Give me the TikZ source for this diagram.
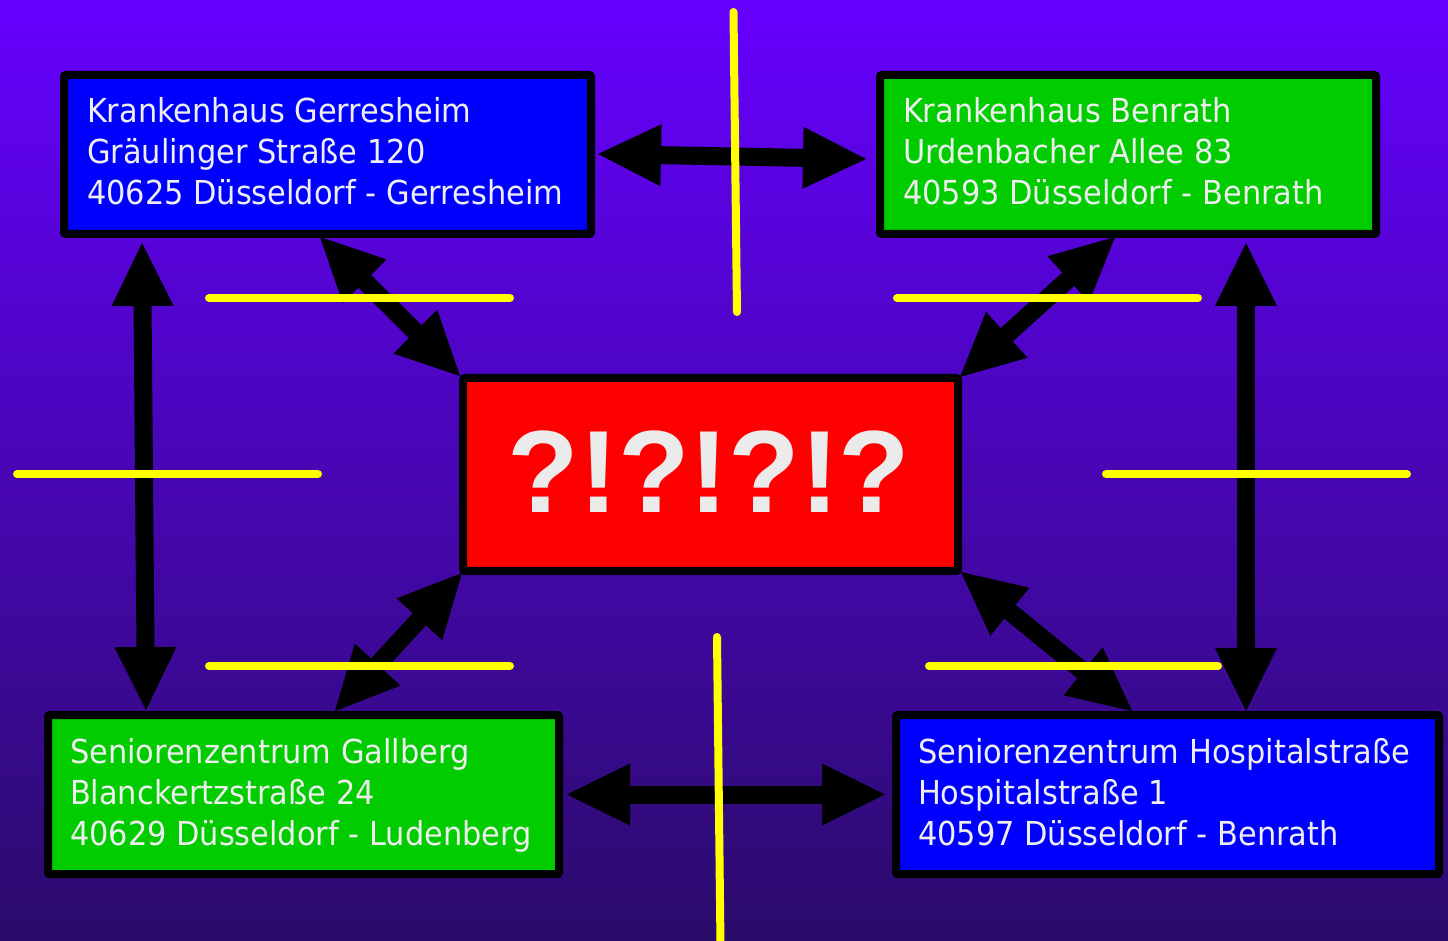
\documentclass[tikz,border=0pt]{standalone}
\usepackage{fontspec}
\setmainfont{DejaVu Sans}
\newfontfamily\boxfont[FakeStretch=0.922]{DejaVu Sans}
\newfontfamily\qfont{Liberation Sans}
\usetikzlibrary{arrows.meta,calc}
\definecolor{bgtop}{HTML}{6600FF}
\definecolor{bgbot}{HTML}{2A0C6A}
\definecolor{boxblue}{HTML}{0000FF}
\definecolor{boxgreen}{HTML}{00CC00}
\definecolor{boxred}{HTML}{FF0000}
\definecolor{txtcol}{HTML}{EEEEEE}
\definecolor{qcol}{HTML}{EBEBEB}
\definecolor{ylw}{HTML}{FFFF00}
\tikzset{
  boxst/.style={draw=black, line width=4pt, rounded corners=1pt, inner sep=0pt, outer sep=2pt, minimum height=79.5pt},
  txt/.style={anchor=base west, inner sep=0pt, outer sep=0pt, text=txtcol, font=\boxfont\fontsize{16.5pt}{20.5pt}\selectfont},
  arr/.style={draw=black, line width=9pt, >={Triangle[length=31.5pt,width=31pt,line width=0pt]}, <->},
  ymark/.style={draw=ylw, line width=4pt, line cap=round}
}
\begin{document}
\begin{tikzpicture}[x=0.5pt,y=-0.5pt]
\useasboundingbox (0,0) rectangle (1448,941);
\shade[top color=bgtop, bottom color=bgbot] (0,0) rectangle (1448,941);

% boxes
\node[boxst, fill=boxblue, minimum width=263.5pt] (G) at (327.5,154.5) {};
\node[boxst, fill=boxgreen, minimum width=248pt] (B) at (1128,154.5) {};
\node[boxst, fill=boxred, minimum width=247.5pt, minimum height=96.5pt] (C) at (710.5,474.5) {};
\node[boxst, fill=boxgreen, minimum width=255.5pt] (L) at (303.5,794.5) {};
\node[boxst, fill=boxblue, minimum width=271.5pt] (H) at (1167.5,794.5) {};

% texts
\node[txt] (g1) at (87,123) {Krankenhaus Gerresheim};
\node[txt] (g2) at (87,164) {Gräulinger Straße 120};
\node[txt] (g3) at (87,205) {40625 Düsseldorf - Gerresheim};
\node[txt] (b1) at (903,123) {Krankenhaus Benrath};
\node[txt] (b2) at (903,164) {Urdenbacher Allee 83};
\node[txt] (b3) at (903,205) {40593 Düsseldorf - Benrath};
\node[txt] (l1) at (70,763) {Seniorenzentrum Gallberg};
\node[txt] (l2) at (70,804) {Blanckertzstraße 24};
\node[txt] (l3) at (70,845) {40629 Düsseldorf - Ludenberg};
\node[txt] (h1) at (918,763) {Seniorenzentrum Hospitalstraße};
\node[txt] (h2) at (918,804) {Hospitalstraße 1};
\node[txt] (h3) at (918,845) {40597 Düsseldorf - Benrath};
\node[anchor=base, inner sep=0pt, text=qcol, font=\qfont\bfseries\fontsize{58.5pt}{60pt}\selectfont] (q) at (709,513) {?!?!?!?};

% arrows
\draw[arr] ($(G.east)+(3,-0.5)$) -- ($(B.west)+(-10,4.5)$);
\draw[arr] ($(L.east)+(4,0)$) -- ($(H.west)+(-7,0)$);
\draw[arr] ($(G.south west)+(82,5)$) -- ($(L.north west)+(102,-1)$);
\draw[arr] ($(B.south west)+(370,5)$) -- ($(H.north west)+(354,0)$);
\draw[arr] ($(G.south west)+(260,-1)$) -- ($(C.north west)+(1,2)$);
\draw[arr] ($(B.south west)+(239,-1)$) -- ($(C.north east)+(-2,3)$);
\draw[arr] ($(C.south west)+(3,-2)$) -- ($(L.north west)+(291,0)$);
\draw[arr] ($(C.south east)+(-1,-3)$) -- ($(H.north west)+(240,0)$);

% yellow marks
\draw[ymark] (733.5,12) -- (737,312);
\draw[ymark] (717,637) -- (720.5,945);
\draw[ymark] (209,298) -- (510,298);
\draw[ymark] (897,298) -- (1198,298);
\draw[ymark] (17,474) -- (318,474);
\draw[ymark] (1106,474) -- (1407,474);
\draw[ymark] (209,666) -- (510,666);
\draw[ymark] (929,666) -- (1218,666);
\end{tikzpicture}
\end{document}
